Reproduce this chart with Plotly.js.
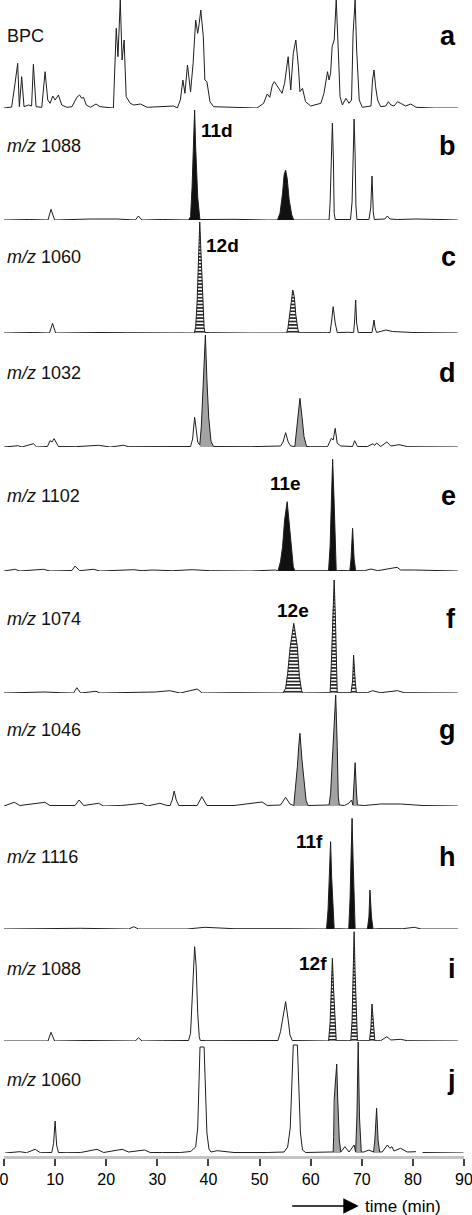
<!DOCTYPE html>
<html>
<head>
<meta charset="utf-8">
<script src="https://cdn.plot.ly/plotly-3.0.1.min.js"></script>
<style>
  html, body { margin: 0; padding: 0; background: #fff; }
  #plot { width: 472px; height: 1215px; }
</style>
</head>
<body>
<div id="plot"></div>
<script>
// retention time (min) and relative intensity
var tA = [0, 1.5, 2.16, 2.68, 3.0, 3.46, 3.92, 4.77, 5.4, 5.75, 6.27, 7.39, 8.04, 8.56, 9.02, 9.54, 10.0, 10.65, 11.3, 12.3,
  13.3, 14.25, 14.8, 15.2, 15.55, 16.1, 16.9, 18.0, 18.8, 21.4, 21.96, 22.3, 22.75, 23.1, 23.5, 23.9, 24.7, 25.4, 26.7, 28.0,
  33.2, 33.9, 34.5, 35.0, 35.4, 35.9, 36.5, 37.0, 37.5, 37.9, 38.2, 38.5, 39.0, 39.3, 39.7, 40.3, 41.0, 45.0, 49.5, 50.8,
  51.5, 52.0, 52.5, 52.9, 53.5, 54.4, 54.9, 55.6, 56.1, 56.6, 57.1, 57.6, 57.9, 58.4, 59.0, 60.0, 62.0, 62.6, 63.3, 63.6,
  63.9, 64.2, 64.6, 64.8, 65.0, 65.4, 65.75, 66.2, 66.9, 67.5, 68.0, 68.3, 68.7, 69.0, 69.5, 70.1, 71.8, 72.1, 72.4, 72.7,
  73.1, 73.7, 74.7, 75.2, 75.7, 76.3, 77.0, 77.6, 78.6, 79.6, 80.6, 84.2, 88.8];
var yA = [0, 1, 24.7, 44.7, 1.3, 31.3, 1.3, 3, 2, 43.7, 1.3, 0.7, 36.3, 8, 4.7, 12, 8, 13, 3, 0.7,
  1.3, 10.7, 13, 9.7, 10.7, 3, 0.7, 4, 1.3, 0, 79.7, 51.3, 108, 48, 68, 11.3, 4.7, 3, 4, 0.7,
  2, 0, 8, 28, 14.7, 43, 16.3, 44.7, 88, 74.7, 84.7, 98, 71.3, 28, 26.3, 6.3, 1.3, 0.7, 0, 4.7,
  14, 10.7, 23, 26.3, 21.3, 14.7, 24.7, 51.3, 18, 54.7, 68, 41.3, 16.3, 19.7, 6.3, 2, 4.7, 14.7, 36.3, 28,
  34.7, 61.3, 68, 84.7, 108, 58, 11.3, 3, 9.7, 4.7, 8, 74.7, 108, 58, 8, 0.7, 2, 28, 38, 21.3,
  8, 1.3, 2, 6.3, 3, 2, 6.3, 4.7, 2, 4, 0.7, 0, 0];

var tB = [0, 5, 8.6, 9.2, 9.9, 13, 16.9, 22.1, 25.7, 26.3, 27.0, 31, 36.1, 36.5, 36.8, 37.1, 37.3, 37.5, 37.9, 38.3,
  38.5, 39.7, 45, 51.5, 53.5, 54.0, 54.5, 54.8, 55.1, 55.4, 55.8, 56.3, 56.7, 58.0, 63.6, 63.8, 64.05, 64.25, 64.45, 64.6,
  64.8, 67.2, 67.8, 68.1, 68.3, 68.5, 68.7, 68.85, 69.05, 71.4, 71.75, 71.9, 72.0, 72.1, 72.25, 72.45, 74.5, 75.0, 75.5, 77,
  80.4, 85.5, 88.8];
var yB = [0, 0.5, 0, 10.7, 0, 0.5, 1, 1, 0, 4, 0, 0.5, 0, 3.3, 33, 80, 110, 73, 23, 1.7,
  0.5, 0.5, 0.7, 0, 0, 6.7, 26.7, 45, 50, 41.7, 20, 5, 0, 0, 0, 16.7, 66.7, 97, 60, 6.7,
  0.5, 0, 0.5, 18, 70, 101, 65, 15, 0.5, 0.5, 12, 32, 44, 30, 8, 0.5, 1, 4, 1, 0.5,
  1, 0.5, 0];

var tC = [0, 5.75, 8.9, 9.5, 10.1, 14, 18.8, 24, 28.6, 35.8, 37.25, 37.5, 37.8, 38.05, 38.3, 38.6, 38.9, 39.15, 39.3, 40.4,
  48.2, 55.1, 55.3, 55.55, 55.95, 56.3, 56.5, 56.8, 57.1, 57.5, 57.7, 63.3, 63.8, 64.1, 64.4, 64.8, 65.2, 67.2, 68.4, 68.6,
  68.8, 69.0, 69.3, 72.0, 72.2, 72.4, 72.6, 72.9, 74.7, 76.0, 80, 88.8];
var yC = [0, 0.5, 0, 9.7, 0, 0.5, 0.5, 0.3, 0.3, 0.5, 0, 6, 33, 73, 111, 73, 33, 5.7, 0.5, 0.3,
  0, 0.5, 0, 4.7, 19.7, 36.3, 43, 36.3, 18, 3.7, 0.3, 0.3, 0.5, 12, 26.3, 10, 0.5, 0.7, 0.5, 12,
  33, 10, 0.5, 0.5, 6, 13, 5, 0.5, 3, 1.5, 0.5, 0];

var tD = [0, 2.8, 3.5, 5.75, 6.4, 8.5, 9.0, 9.4, 9.8, 10.65, 14, 18.5, 20.8, 23.4, 24.4, 30.6, 35.8, 36.5, 36.9, 37.1,
  37.3, 37.55, 37.9, 38.3, 38.6, 38.95, 39.4, 39.7, 40.05, 40.5, 41.0, 48.2, 54.1, 54.6, 55.1, 55.6, 56.1, 56.9, 57.2, 57.5,
  57.9, 58.3, 58.7, 59.2, 60.0, 63.3, 64.05, 64.4, 64.8, 65.2, 65.9, 68.2, 68.6, 69.15, 71.1, 72.2, 72.5, 72.9, 73.7, 74.9,
  75.7, 77.3, 79.0, 88.8];
var yD = [0, 1.3, 0, 3.3, 0, 0.5, 6.3, 5, 8.3, 0.5, 0.3, 1.7, 0, 1.7, 0.3, 0.3, 0.5, 0.5, 8, 20,
  29.7, 20, 5, 2, 20, 60, 112, 67, 30, 5.7, 0.5, 0.3, 1, 5, 14.3, 5, 1, 0.5, 17, 33.7,
  48.7, 30.3, 10.3, 0.5, 0.3, 0.3, 8.7, 7, 18.7, 3.7, 1, 0.5, 6.3, 0.5, 0.5, 3.3, 1.5, 4, 0.5, 5,
  1, 2.3, 0.3, 0];

var tE = [0, 2.2, 3.1, 7.7, 9.0, 13.3, 13.9, 14.8, 17.5, 18.8, 25.4, 27, 29.0, 33, 36.8, 40.4, 48.2, 53.1, 53.6, 54.1,
  54.5, 54.9, 55.4, 55.8, 56.2, 56.6, 56.9, 58.0, 62.6, 63.5, 63.8, 64.05, 64.3, 64.6, 64.8, 65.0, 65.9, 67.65, 67.9, 68.2,
  68.5, 68.8, 70.5, 71.8, 73.1, 76.9, 77.6, 80.3, 88.8];
var yE = [0, 1.7, 0, 1.7, 0, 0.5, 5, 0.3, 1.7, 0, 1.3, 0.3, 1, 0.3, 1.3, 0.3, 0, 1, 0, 9.3,
  24.3, 51, 69.3, 47.7, 21, 4.3, 0.3, 0.3, 0.3, 0.3, 24.3, 71, 111.7, 67.7, 17.7, 0.3, 0.5, 0.3, 12, 42.7,
  12, 0.3, 0.3, 2, 0.3, 3.7, 1, 1, 0];

var tF = [0, 4, 8.0, 11, 13.6, 14.25, 15.0, 18.0, 18.8, 22, 26.0, 29.6, 32.4, 34.5, 37.8, 38.8, 45, 54.1, 54.6, 55.1,
  55.5, 56.0, 56.7, 57.4, 57.8, 58.2, 58.4, 63.6, 63.8, 64.05, 64.3, 64.6, 64.85, 65.0, 65.2, 67.2, 67.9, 68.2, 68.4, 68.7,
  68.95, 71.1, 72.1, 73.7, 77.0, 78.3, 88.8];
var yF = [0, 0.3, 1, 0.3, 0, 5.3, 0, 1.7, 0, 0.3, 0.7, 1, 2.3, 0, 4, 0, 0.3, 0.5, 0, 4.7,
  19.7, 46.3, 69.7, 46.3, 16.3, 2.7, 0, 0.3, 0, 30, 79.7, 113, 73, 19.7, 0.3, 0.3, 0.3, 12, 38, 12,
  0.3, 0.3, 2.3, 0.3, 2.3, 0.3, 0];

var tG = [0, 2.0, 3.1, 8.0, 9.0, 10.65, 13.9, 14.7, 15.6, 18.5, 19.5, 23, 27.0, 28.0, 30.5, 31.9, 32.5, 32.9, 33.3, 33.7,
  34.2, 35.8, 37.8, 38.7, 39.7, 45.0, 50.5, 51.5, 54.1, 55.1, 55.95, 56.7, 57.07, 57.4, 57.65, 57.9, 58.3, 58.7, 59.1, 59.5,
  60.0, 63.6, 63.9, 64.3, 64.6, 64.9, 65.2, 65.4, 65.6, 66.6, 67.5, 68.0, 68.25, 68.5, 68.7, 68.95, 69.15, 70.5, 73.7, 77.6,
  82, 88.8];
var yG = [0, 3.7, 0.5, 3.7, 0.5, 0.5, 0.5, 6, 0.5, 2.7, 0, 0.5, 2.7, 0, 2.7, 0.5, 0.5, 6, 15, 6,
  0.5, 0.5, 0.5, 9.3, 0.5, 0.5, 4, 0.5, 1, 8.7, 2, 0.5, 19.3, 39.3, 59.3, 72.7, 46, 22.7, 5.7, 0.5,
  0.5, 1, 12.7, 49.3, 76, 111, 59.3, 9.3, 1, 0.5, 3, 6, 1, 20, 43.3, 15, 1, 0.5, 2, 2,
  0.5, 0];

var tH = [0, 4.4, 14.9, 24.4, 25.4, 26.3, 35.8, 39.3, 45, 55, 62.6, 63.1, 63.4, 63.7, 63.9, 64.1, 64.4, 64.6, 65.2, 67.45,
  67.7, 67.9, 68.1, 68.3, 68.5, 68.7, 71.1, 71.4, 71.6, 71.9, 72.2, 73.1, 78, 80.3, 81.6, 88.8];
var yH = [0, 0.3, 0.7, 0, 2.3, 0, 0, 1.7, 0.3, 0.3, 0, 0, 19, 55.7, 87.3, 52.3, 15.7, 0, 0.3, 0,
  29, 75.7, 110.7, 69, 22.3, 0, 0, 12, 39, 12, 0, 0.3, 0.3, 1.7, 0, 0];

var tI = [0, 5.75, 8.6, 9.2, 9.9, 16.2, 22, 25.7, 26.3, 27.0, 31, 35.8, 36.1, 36.5, 36.8, 37.1, 37.3, 37.6, 37.9, 38.2,
  38.4, 39.7, 46, 52.8, 53.6, 54.1, 54.6, 55.1, 55.6, 55.95, 56.4, 58.0, 63.3, 63.5, 63.8, 64.0, 64.25, 64.5, 64.8, 65.0,
  67.2, 67.85, 68.1, 68.3, 68.5, 68.7, 68.95, 69.15, 71.5, 71.77, 72.0, 72.3, 72.55, 73.7, 74.9, 75.7, 77.6, 78.9, 88.8];
var yI = [0, 0.5, 0, 8.7, 0, 0.5, 0.3, 0, 3.3, 0, 0.3, 0.5, 0.5, 7.7, 37.7, 77.7, 94.3, 74.3, 27.7, 4.3,
  0.5, 0.3, 0.3, 0.5, 0.5, 9.3, 24.3, 39.3, 21, 6, 0.5, 0.3, 0.3, 0, 17.7, 55, 82.7, 50, 11, 0.3,
  0.3, 0.3, 20, 70, 109.3, 68, 18, 0.3, 0.3, 12, 37, 11, 0.3, 0.3, 4.3, 1, 1.7, 0.3, 0];

var tJ = [0.2, 3.1, 4.4, 6.1, 7.1, 9.35, 9.7, 10.0, 10.3, 10.65, 12.3, 15, 18.2, 19.5, 23.1, 24.4, 27.5, 28.6, 31, 34.5,
  36.5, 37.5, 37.9, 38.2, 38.35, 39.15, 39.35, 39.7, 40.1, 40.5, 41.7, 45, 51.5, 53.5, 54.8, 55.5, 56.0, 56.4, 56.6, 57.4,
  57.7, 58.0, 58.4, 59.0, 63.6, 64.4, 64.5, 64.6, 64.8, 65.1, 65.3, 65.6, 65.9, 66.7, 67.5, 68.5, 68.8, 69.05, 69.3, 69.55,
  69.9, 70.4, 71.4, 72.1, 72.3, 72.55, 72.9, 73.2, 73.5, 74.0, 75.0, 75.5, 75.9, 76.3, 77.6, 78.9, 80.6, 81.2, 81.9, 85,
  89.9];
var yJ = [0, 1.3, 0.3, 3.7, 0.3, 0.5, 9.7, 32, 8, 0.5, 0.3, 0.5, 3.7, 0.5, 3.7, 1, 3, 0.5, 0.5, 0.5,
  1.5, 6, 25, 70, 106, 106, 70, 20, 4, 1, 2.3, 0.5, 0.5, 1, 1, 6, 25, 80, 108, 108,
  70, 20, 3, 0.5, 1, 1, 16.3, 53, 68, 89, 53, 13, 1, 6.3, 1, 8, 1, 36, 111, 36,
  1, 1, 3, 1.5, 1, 12, 44.7, 12, 1, 1, 8, 4.7, 6.3, 2, 4.7, 1, 1.3, null, 0.5, 0.3,
  0];

var panelNames = ["BPC", "<i>m/z</i> 1088", "<i>m/z</i> 1060", "<i>m/z</i> 1032", "<i>m/z</i> 1102",
  "<i>m/z</i> 1074", "<i>m/z</i> 1046", "<i>m/z</i> 1116", "<i>m/z</i> 1088", "<i>m/z</i> 1060"];
var panelLetters = ["a", "b", "c", "d", "e", "f", "g", "h", "i", "j"];

// shaded peaks: [start, end, style] in minutes
var shadedPeaks = [
  [],
  [[36.1, 38.5, "black"], [53.5, 56.7, "black"]],
  [[37.25, 39.3, "hatch"], [55.3, 57.7, "hatch"]],
  [[38.3, 41.0, "grey"], [56.9, 59.2, "grey"]],
  [[53.6, 56.9, "black"], [63.5, 65.0, "black"], [67.65, 68.8, "black"]],
  [[54.6, 58.4, "hatch"], [63.8, 65.2, "hatch"], [67.9, 68.95, "hatch"]],
  [[56.7, 59.5, "grey"], [63.6, 65.6, "grey"], [68.25, 69.15, "grey"]],
  [[63.1, 64.6, "black"], [67.45, 68.7, "black"], [71.1, 72.2, "black"]],
  [[63.5, 65.0, "hatch"], [67.85, 69.15, "hatch"], [71.5, 72.55, "hatch"]],
  [[64.4, 65.9, "grey"], [68.8, 69.9, "grey"], [72.3, 73.5, "grey"]]
];

// peak tags: panel, time, height
var tagText = ["11d", "12d", "11e", "12e", "11f", "12f"];
var tagPanel = [1, 2, 4, 5, 7, 8];
var tagTime = [38.2, 39.2, 55.1, 56.5, 59.7, 60.5];
var tagHeight = [90, 88, 88, 83, 88, 78];

var times = [tA, tB, tC, tD, tE, tF, tG, tH, tI, tJ];
var values = [yA, yB, yC, yD, yE, yF, yG, yH, yI, yJ];

// layout: pixel row of each baseline, label height above it
var baselinePx = [108, 220, 333, 447, 571, 693, 806, 929, 1041, 1153];
var labelH = [72, 74, 76, 74, 75, 74, 76, 72, 72, 73];
var plotH = 1157;
var FONT = "Arial, 'Liberation Sans', sans-serif";

var fillStyle = {
  black: { fillcolor: "#111" },
  grey: { fillcolor: "#a3a3a3" },
  hatch: { fillcolor: "#fff", fillpattern: { shape: "-", fgcolor: "#111", bgcolor: "#fff", size: 3.4, solidity: 0.45 } }
};

var traces = [];
var layout = {
  width: 472, height: 1215,
  margin: { l: 4, r: 8.3, t: 0, b: 58 },
  paper_bgcolor: "#fff", plot_bgcolor: "rgba(0,0,0,0)",
  showlegend: false,
  font: { family: FONT, color: "#000" },
  xaxis: {
    range: [0, 90], anchor: "free", position: 0,
    tickvals: [0, 10, 20, 30, 40, 50, 60, 70, 80, 90],
    ticks: "outside", ticklen: 7, tickwidth: 2, tickcolor: "#444",
    ticklabeloverflow: "allow",
    showline: true, linecolor: "#c4c4c4", linewidth: 3,
    showgrid: false, zeroline: false,
    tickfont: { size: 16, family: FONT, color: "#000" }
  },
  annotations: []
};

for (var p = 0; p < 10; p++) {
  var ax = p === 0 ? "y" : "y" + (p + 1);
  var axKey = p === 0 ? "yaxis" : "yaxis" + (p + 1);
  var lo = (plotH - baselinePx[p]) / plotH;
  var hi = Math.min(1, lo + 122 / plotH);
  layout[axKey] = {
    domain: [lo, hi], range: [0, (hi - lo) * plotH],
    visible: false, showgrid: false, zeroline: false, fixedrange: true, anchor: "x"
  };

  shadedPeaks[p].forEach(function (s) {
    var xs = [], ys = [];
    for (var i = 0; i < times[p].length; i++) {
      if (times[p][i] >= s[0] && times[p][i] <= s[1] && values[p][i] !== null) {
        xs.push(times[p][i]);
        ys.push(values[p][i]);
      }
    }
    var tr = {
      x: xs, y: ys, yaxis: ax, type: "scatter", mode: "lines",
      fill: "tozeroy", line: { width: 0, color: "#111" }, hoverinfo: "skip"
    };
    Object.assign(tr, fillStyle[s[2]]);
    traces.push(tr);
  });

  traces.push({
    x: times[p], y: values[p], yaxis: ax, type: "scatter", mode: "lines",
    connectgaps: false, line: { color: "#1e1e1e", width: 1 }
  });

  layout.annotations.push({
    xref: "x", yref: ax, x: 0.1, y: labelH[p], xanchor: "left", yanchor: "middle",
    text: panelNames[p], showarrow: false, font: { size: 18, family: FONT, color: "#111" }
  });
  layout.annotations.push({
    xref: "x", yref: ax, x: 88.9, y: labelH[p], xanchor: "right", yanchor: "middle",
    text: "<b>" + panelLetters[p] + "</b>", showarrow: false, font: { size: 27, family: FONT, color: "#000" }
  });
}

for (var k = 0; k < tagText.length; k++) {
  var pa = tagPanel[k];
  layout.annotations.push({
    xref: "x", yref: "y" + (pa + 1), x: tagTime[k], y: tagHeight[k],
    xanchor: k < 2 ? "left" : "center", yanchor: "middle",
    text: "<b>" + tagText[k] + "</b>", showarrow: false, font: { size: 19, family: FONT, color: "#000" }
  });
}

// time arrow and axis caption
layout.annotations.push({
  xref: "x", yref: "paper", x: 69.4, y: -49 / plotH, ax: -68, ay: 0,
  text: "", showarrow: true, arrowhead: 2, arrowsize: 2.2, arrowwidth: 1.4, arrowcolor: "#000"
});
layout.annotations.push({
  xref: "x", yref: "paper", x: 70.2, y: -49 / plotH, xanchor: "left", yanchor: "middle",
  text: "time (min)", showarrow: false, font: { size: 17, family: FONT, color: "#000" }
});

Plotly.newPlot("plot", traces, layout, { staticPlot: true });
</script>
</body>
</html>
